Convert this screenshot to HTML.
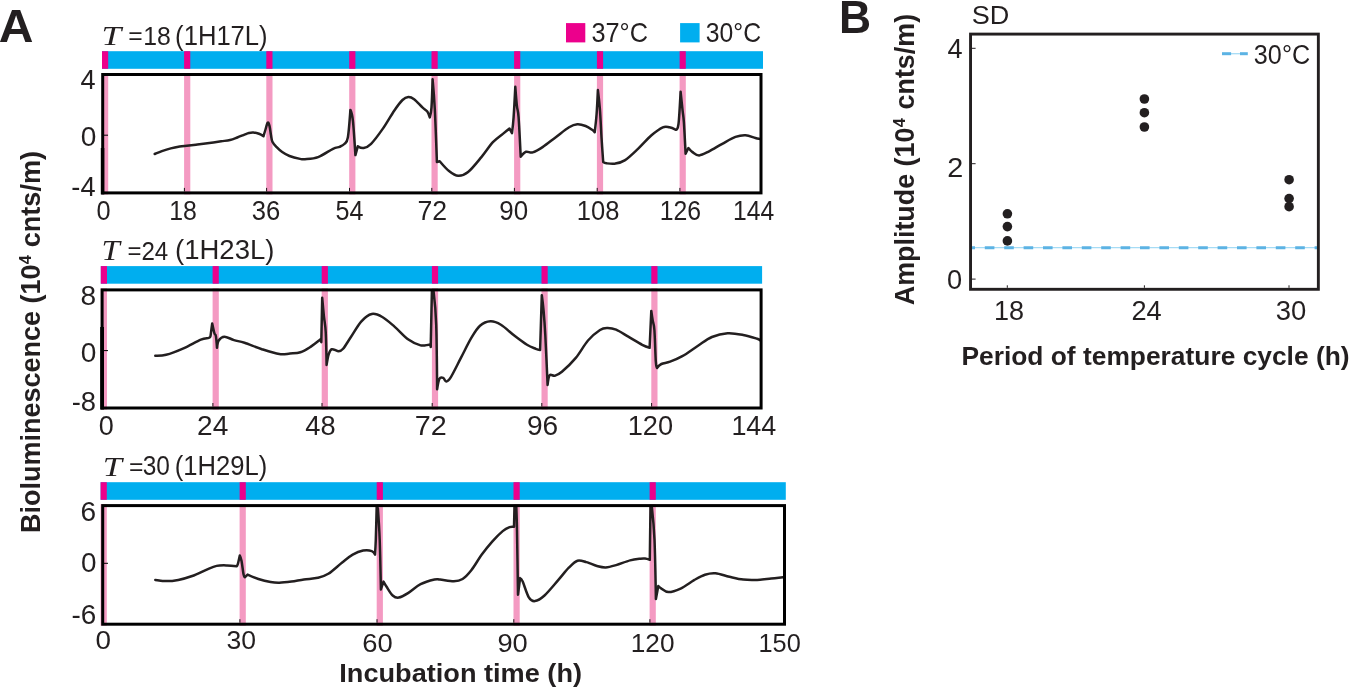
<!DOCTYPE html>
<html><head><meta charset="utf-8"><style>
html,body{margin:0;padding:0;background:#fff;}
svg{display:block;will-change:transform;}

</style></head><body>
<svg width="1349" height="689" viewBox="0 0 1349 689">
<rect width="1349" height="689" fill="#fff"/>
<rect x="102" y="51.2" width="661.00" height="17.60" fill="#00aeef"/>
<rect x="102" y="51.2" width="6.2" height="17.60" fill="#ec008c"/>
<rect x="184.1" y="51.2" width="6.2" height="17.60" fill="#ec008c"/>
<rect x="266.3" y="51.2" width="6.2" height="17.60" fill="#ec008c"/>
<rect x="349.2" y="51.2" width="6.2" height="17.60" fill="#ec008c"/>
<rect x="431.5" y="51.2" width="6.2" height="17.60" fill="#ec008c"/>
<rect x="514.1" y="51.2" width="6.2" height="17.60" fill="#ec008c"/>
<rect x="596.9" y="51.2" width="6.2" height="17.60" fill="#ec008c"/>
<rect x="679.6" y="51.2" width="6.2" height="17.60" fill="#ec008c"/>
<rect x="102" y="73" width="6.2" height="121.40" fill="#f49ac2"/>
<rect x="184.1" y="73" width="6.2" height="121.40" fill="#f49ac2"/>
<rect x="266.3" y="73" width="6.2" height="121.40" fill="#f49ac2"/>
<rect x="349.2" y="73" width="6.2" height="121.40" fill="#f49ac2"/>
<rect x="431.5" y="73" width="6.2" height="121.40" fill="#f49ac2"/>
<rect x="514.1" y="73" width="6.2" height="121.40" fill="#f49ac2"/>
<rect x="596.9" y="73" width="6.2" height="121.40" fill="#f49ac2"/>
<rect x="679.6" y="73" width="6.2" height="121.40" fill="#f49ac2"/>
<clipPath id="c0"><rect x="102.7" y="74.5" width="658.30" height="118.40"/></clipPath>
<path clip-path="url(#c0)" d="M154.70,154.00 C155.90,153.52 159.22,152.03 161.90,151.10 C164.58,150.17 167.83,149.15 170.80,148.40 C173.77,147.65 177.03,147.05 179.70,146.60 C182.37,146.15 183.85,146.05 186.80,145.70 C189.75,145.35 193.65,144.95 197.40,144.50 C201.15,144.05 205.33,143.53 209.30,143.00 C213.27,142.47 217.75,141.80 221.20,141.30 C224.65,140.80 227.32,140.63 230.00,140.00 C232.68,139.37 234.88,138.40 237.30,137.50 C239.72,136.60 242.57,135.35 244.50,134.60 C246.43,133.85 247.45,133.35 248.90,133.00 C250.35,132.65 251.52,132.38 253.20,132.50 C254.88,132.62 257.28,133.08 259.00,133.70 C260.72,134.32 263.50,136.20 263.50,136.20 C263.50,136.20 264.80,131.77 265.50,129.50 C266.20,127.23 267.03,123.20 267.70,122.60 C268.37,122.00 268.95,123.78 269.50,125.90 C270.05,128.02 270.52,132.65 271.00,135.30 C271.48,137.95 271.50,139.87 272.40,141.80 C273.30,143.73 274.77,145.20 276.40,146.90 C278.03,148.60 280.02,150.48 282.20,152.00 C284.38,153.52 286.53,154.85 289.50,156.00 C292.47,157.15 297.43,158.37 300.00,158.90 C302.57,159.43 301.88,159.50 304.90,159.20 C307.92,158.90 313.42,158.83 318.10,157.10 C322.78,155.37 329.42,150.52 333.00,148.80 C336.58,147.08 337.67,147.63 339.60,146.80 C341.53,145.97 343.22,145.40 344.60,143.80 C345.98,142.20 346.93,142.85 347.90,137.20 C348.87,131.55 350.40,109.90 350.40,109.90 C350.40,109.90 352.07,113.17 352.90,120.70 C353.73,128.23 355.40,155.10 355.40,155.10 C355.40,155.10 357.80,146.30 357.80,146.30 C357.80,146.30 361.38,148.42 363.60,148.00 C365.82,147.58 367.92,146.98 371.10,143.80 C374.28,140.62 378.85,134.42 382.70,128.90 C386.55,123.38 390.90,115.52 394.20,110.70 C397.50,105.88 400.15,102.28 402.50,100.00 C404.85,97.72 406.37,97.13 408.30,97.00 C410.23,96.87 411.75,97.47 414.10,99.20 C416.45,100.93 420.20,105.33 422.40,107.40 C424.60,109.47 426.07,109.93 427.30,111.60 C428.53,113.27 429.80,117.40 429.80,117.40 C429.80,117.40 431.03,113.75 431.50,107.40 C431.97,101.05 432.60,79.30 432.60,79.30 C432.60,79.30 434.08,95.32 434.80,109.10 C435.52,122.88 436.90,162.00 436.90,162.00 C436.90,162.00 439.70,161.20 439.70,161.20 C439.70,161.20 445.92,168.57 449.00,171.00 C452.08,173.43 455.02,175.63 458.20,175.80 C461.38,175.97 464.23,175.12 468.10,172.00 C471.97,168.88 477.27,162.07 481.40,157.10 C485.53,152.13 489.32,146.07 492.90,142.20 C496.48,138.33 500.13,136.17 502.90,133.90 C505.67,131.63 509.50,128.60 509.50,128.60 C509.50,128.60 512.00,133.10 512.00,133.10 C512.00,133.10 513.05,125.12 513.60,117.40 C514.15,109.68 515.30,86.80 515.30,86.80 C515.30,86.80 516.35,100.70 516.90,105.80 C517.45,110.90 517.97,108.92 518.60,117.40 C519.23,125.88 520.70,156.70 520.70,156.70 C520.70,156.70 524.00,152.52 526.00,151.80 C528.00,151.08 529.93,153.18 532.70,152.40 C535.47,151.62 538.75,149.63 542.60,147.10 C546.45,144.57 551.38,140.50 555.80,137.20 C560.22,133.90 565.52,129.45 569.10,127.30 C572.68,125.15 574.55,124.52 577.30,124.30 C580.05,124.08 583.12,125.08 585.60,126.00 C588.08,126.92 590.68,128.75 592.20,129.80 C593.72,130.85 594.70,132.30 594.70,132.30 C594.70,132.30 596.07,121.03 596.60,114.00 C597.13,106.97 597.90,90.10 597.90,90.10 C597.90,90.10 599.28,100.97 599.90,109.10 C600.52,117.23 601.05,130.08 601.60,138.90 C602.15,147.72 603.20,162.00 603.20,162.00 C603.20,162.00 604.57,163.02 606.50,163.30 C608.43,163.58 611.77,164.18 614.80,163.70 C617.83,163.22 620.83,162.88 624.70,160.40 C628.57,157.92 633.58,152.95 638.00,148.80 C642.42,144.65 647.07,139.08 651.20,135.50 C655.33,131.92 659.77,128.67 662.80,127.30 C665.83,125.93 667.20,126.88 669.40,127.30 C671.60,127.72 676.00,129.80 676.00,129.80 C676.00,129.80 677.73,130.35 678.50,124.00 C679.27,117.65 680.60,91.70 680.60,91.70 C680.60,91.70 682.05,105.60 682.60,110.70 C683.15,115.80 683.40,115.13 683.90,122.30 C684.40,129.47 685.60,153.70 685.60,153.70 C685.60,153.70 688.40,148.00 688.40,148.00 C688.40,148.00 690.70,150.87 692.50,152.10 C694.30,153.33 696.43,155.53 699.20,155.40 C701.97,155.27 705.25,153.23 709.10,151.30 C712.95,149.37 717.90,146.20 722.30,143.80 C726.70,141.40 731.63,138.33 735.50,136.90 C739.37,135.47 742.18,135.02 745.50,135.20 C748.82,135.38 753.07,137.38 755.40,138.00 C757.73,138.62 758.82,138.75 759.50,138.90" fill="none" stroke="#231f20" stroke-width="2.5" stroke-linejoin="round" stroke-linecap="round"/>
<line x1="184.4" y1="191.4" x2="184.4" y2="187.9" stroke="#000" stroke-width="0.9"/>
<line x1="266.6" y1="191.4" x2="266.6" y2="187.9" stroke="#000" stroke-width="0.9"/>
<line x1="349.5" y1="191.4" x2="349.5" y2="187.9" stroke="#000" stroke-width="0.9"/>
<line x1="431.8" y1="191.4" x2="431.8" y2="187.9" stroke="#000" stroke-width="0.9"/>
<line x1="514.4" y1="191.4" x2="514.4" y2="187.9" stroke="#000" stroke-width="0.9"/>
<line x1="597.1999999999999" y1="191.4" x2="597.1999999999999" y2="187.9" stroke="#000" stroke-width="0.9"/>
<line x1="679.9" y1="191.4" x2="679.9" y2="187.9" stroke="#000" stroke-width="0.9"/>
<rect x="102.7" y="74.5" width="658.30" height="118.40" fill="none" stroke="#000" stroke-width="3.0"/>
<rect x="100.8" y="266.1" width="661.30" height="17.60" fill="#00aeef"/>
<rect x="100.8" y="266.1" width="6.2" height="17.60" fill="#ec008c"/>
<rect x="212.6" y="266.1" width="6.2" height="17.60" fill="#ec008c"/>
<rect x="321.7" y="266.1" width="6.2" height="17.60" fill="#ec008c"/>
<rect x="431.9" y="266.1" width="6.2" height="17.60" fill="#ec008c"/>
<rect x="541.5" y="266.1" width="6.2" height="17.60" fill="#ec008c"/>
<rect x="651.3" y="266.1" width="6.2" height="17.60" fill="#ec008c"/>
<rect x="100.8" y="288.4" width="6.2" height="121.10" fill="#f49ac2"/>
<rect x="212.6" y="288.4" width="6.2" height="121.10" fill="#f49ac2"/>
<rect x="321.7" y="288.4" width="6.2" height="121.10" fill="#f49ac2"/>
<rect x="431.9" y="288.4" width="6.2" height="121.10" fill="#f49ac2"/>
<rect x="541.5" y="288.4" width="6.2" height="121.10" fill="#f49ac2"/>
<rect x="651.3" y="288.4" width="6.2" height="121.10" fill="#f49ac2"/>
<clipPath id="c1"><rect x="102.1" y="289.9" width="659.00" height="118.10"/></clipPath>
<path clip-path="url(#c1)" d="M155.30,355.80 C157.10,355.63 161.40,356.05 166.10,354.80 C170.80,353.55 177.70,350.83 183.50,348.30 C189.30,345.77 196.68,341.33 200.90,339.60 C205.12,337.87 207.20,338.48 208.80,337.90 C210.40,337.32 210.50,336.10 210.50,336.10 C210.50,336.10 212.20,323.40 212.20,323.40 C212.20,323.40 213.88,331.38 214.50,333.50 C215.12,335.62 215.48,333.72 215.90,336.10 C216.32,338.48 217.00,347.80 217.00,347.80 C217.00,347.80 217.47,342.35 218.70,340.50 C219.93,338.65 221.85,336.77 224.40,336.70 C226.95,336.63 230.65,339.08 234.00,340.10 C237.35,341.12 239.85,341.28 244.50,342.80 C249.15,344.32 256.10,347.32 261.90,349.20 C267.70,351.08 274.62,353.38 279.30,354.10 C283.98,354.82 286.48,353.80 290.00,353.50 C293.52,353.20 296.92,353.45 300.40,352.30 C303.88,351.15 307.85,348.52 310.90,346.60 C313.95,344.68 317.02,342.12 318.70,340.80 C320.38,339.48 321.00,338.70 321.00,338.70 C321.00,338.70 321.30,342.20 321.30,342.20 C321.30,342.20 322.20,297.80 322.20,297.80 C322.20,297.80 323.32,310.43 323.90,316.10 C324.48,321.77 325.25,323.67 325.70,331.80 C326.15,339.93 326.60,364.90 326.60,364.90 C326.60,364.90 327.83,357.02 328.70,354.40 C329.57,351.78 330.13,349.72 331.80,349.20 C333.47,348.68 336.82,351.37 338.70,351.30 C340.58,351.23 341.07,351.18 343.10,348.80 C345.13,346.42 347.85,341.58 350.90,337.00 C353.95,332.42 357.92,325.13 361.40,321.30 C364.88,317.47 368.32,314.72 371.80,314.00 C375.28,313.28 378.52,314.90 382.30,317.00 C386.08,319.10 390.15,322.83 394.50,326.60 C398.85,330.37 404.05,336.47 408.40,339.60 C412.75,342.73 417.12,344.53 420.60,345.40 C424.08,346.27 427.62,344.52 429.30,344.80 C430.98,345.08 430.70,347.10 430.70,347.10 C430.70,347.10 431.90,290.90 431.90,290.90 C431.90,290.90 432.88,286.05 433.60,291.70 C434.32,297.35 435.62,308.55 436.20,324.80 C436.78,341.05 437.10,389.20 437.10,389.20 C437.10,389.20 438.38,380.68 439.40,378.80 C440.42,376.92 442.08,377.47 443.20,377.90 C444.32,378.33 444.90,381.40 446.10,381.40 C447.30,381.40 447.93,381.82 450.40,377.90 C452.87,373.98 457.42,364.57 460.90,357.90 C464.38,351.23 468.12,343.27 471.30,337.90 C474.48,332.53 476.80,328.47 480.00,325.70 C483.20,322.93 487.02,321.45 490.50,321.30 C493.98,321.15 496.83,322.33 500.90,324.80 C504.97,327.27 510.55,332.77 514.90,336.10 C519.25,339.43 523.52,342.68 527.00,344.80 C530.48,346.92 533.62,347.92 535.80,348.80 C537.98,349.68 540.10,350.10 540.10,350.10 C540.10,350.10 541.80,295.20 541.80,295.20 C541.80,295.20 543.02,304.22 543.60,310.90 C544.18,317.58 544.63,322.97 545.30,335.30 C545.97,347.63 547.60,384.90 547.60,384.90 C547.60,384.90 548.48,376.83 549.70,375.30 C550.92,373.77 552.87,376.28 554.90,375.70 C556.93,375.12 558.42,374.77 561.90,371.80 C565.38,368.83 571.45,363.12 575.80,357.90 C580.15,352.68 583.97,345.15 588.00,340.50 C592.03,335.85 596.77,332.08 600.00,330.00 C603.23,327.92 604.72,328.05 607.40,328.00 C610.08,327.95 612.62,328.25 616.10,329.70 C619.58,331.15 623.95,334.18 628.30,336.70 C632.65,339.22 638.65,342.95 642.20,344.80 C645.75,346.65 649.60,347.80 649.60,347.80 C649.60,347.80 651.30,310.90 651.30,310.90 C651.30,310.90 652.18,317.32 652.70,320.50 C653.22,323.68 653.88,323.18 654.40,330.00 C654.92,336.82 655.37,355.07 655.80,361.40 C656.23,367.73 657.00,368.00 657.00,368.00 C657.00,368.00 659.22,365.05 661.40,364.00 C663.58,362.95 666.62,363.00 670.10,361.70 C673.58,360.40 677.65,358.87 682.30,356.20 C686.95,353.53 693.07,348.90 698.00,345.70 C702.93,342.50 706.97,339.08 711.90,337.00 C716.83,334.92 722.38,333.55 727.60,333.20 C732.82,332.85 738.27,333.97 743.20,334.90 C748.13,335.83 754.43,337.93 757.20,338.80 C759.97,339.67 759.37,339.88 759.80,340.10" fill="none" stroke="#231f20" stroke-width="2.5" stroke-linejoin="round" stroke-linecap="round"/>
<line x1="212.9" y1="406.5" x2="212.9" y2="403.0" stroke="#000" stroke-width="0.9"/>
<line x1="322.0" y1="406.5" x2="322.0" y2="403.0" stroke="#000" stroke-width="0.9"/>
<line x1="432.2" y1="406.5" x2="432.2" y2="403.0" stroke="#000" stroke-width="0.9"/>
<line x1="541.8" y1="406.5" x2="541.8" y2="403.0" stroke="#000" stroke-width="0.9"/>
<line x1="651.5999999999999" y1="406.5" x2="651.5999999999999" y2="403.0" stroke="#000" stroke-width="0.9"/>
<rect x="102.1" y="289.9" width="659.00" height="118.10" fill="none" stroke="#000" stroke-width="3.0"/>
<rect x="100.6" y="482.2" width="685.20" height="17.60" fill="#00aeef"/>
<rect x="100.6" y="482.2" width="6.2" height="17.60" fill="#ec008c"/>
<rect x="239.6" y="482.2" width="6.2" height="17.60" fill="#ec008c"/>
<rect x="376.7" y="482.2" width="6.2" height="17.60" fill="#ec008c"/>
<rect x="513.5" y="482.2" width="6.2" height="17.60" fill="#ec008c"/>
<rect x="649.6" y="482.2" width="6.2" height="17.60" fill="#ec008c"/>
<rect x="100.6" y="504.1" width="6.2" height="121.60" fill="#f49ac2"/>
<rect x="239.6" y="504.1" width="6.2" height="121.60" fill="#f49ac2"/>
<rect x="376.7" y="504.1" width="6.2" height="121.60" fill="#f49ac2"/>
<rect x="513.5" y="504.1" width="6.2" height="121.60" fill="#f49ac2"/>
<rect x="649.6" y="504.1" width="6.2" height="121.60" fill="#f49ac2"/>
<clipPath id="c2"><rect x="102.7" y="505.6" width="681.80" height="118.60"/></clipPath>
<path clip-path="url(#c2)" d="M155.30,579.90 C157.10,580.10 162.27,581.10 166.10,581.10 C169.93,581.10 173.95,580.75 178.30,579.90 C182.65,579.05 187.55,577.68 192.20,576.00 C196.85,574.32 202.13,571.48 206.20,569.80 C210.27,568.12 213.13,566.63 216.60,565.90 C220.07,565.17 223.67,565.33 227.00,565.40 C230.33,565.47 236.60,566.30 236.60,566.30 C236.60,566.30 237.27,566.00 237.80,564.20 C238.33,562.40 239.80,555.50 239.80,555.50 C239.80,555.50 240.87,557.52 241.50,560.70 C242.13,563.88 243.02,571.85 243.60,574.60 C244.18,577.35 245.00,577.20 245.00,577.20 C245.00,577.20 247.60,574.60 247.60,574.60 C247.60,574.60 254.57,577.75 258.40,579.00 C262.23,580.25 267.12,581.47 270.60,582.10 C274.08,582.73 275.82,582.88 279.30,582.80 C282.78,582.72 287.40,582.15 291.50,581.60 C295.60,581.05 299.50,580.13 303.90,579.50 C308.30,578.87 313.83,578.75 317.90,577.80 C321.97,576.85 324.25,576.35 328.30,573.80 C332.35,571.25 338.13,565.70 342.20,562.50 C346.27,559.30 349.22,556.58 352.70,554.60 C356.18,552.62 359.92,551.18 363.10,550.60 C366.28,550.02 369.82,550.43 371.80,551.10 C373.78,551.77 375.00,554.60 375.00,554.60 C375.00,554.60 375.52,547.92 375.80,539.80 C376.08,531.68 376.70,505.90 376.70,505.90 C376.70,505.90 377.90,508.50 377.90,508.50 C377.90,508.50 379.20,526.32 379.70,539.80 C380.20,553.28 380.90,589.40 380.90,589.40 C380.90,589.40 383.50,581.60 383.50,581.60 C383.50,581.60 385.07,584.48 386.60,586.80 C388.13,589.12 390.67,593.70 392.70,595.50 C394.73,597.30 396.18,598.03 398.80,597.60 C401.42,597.17 404.77,595.13 408.40,592.90 C412.03,590.67 416.25,586.43 420.60,584.20 C424.95,581.97 431.27,580.28 434.50,579.50 C437.73,578.72 436.77,579.20 440.00,579.50 C443.23,579.80 450.13,581.38 453.90,581.30 C457.67,581.22 459.70,580.83 462.60,579.00 C465.50,577.17 468.10,574.37 471.30,570.30 C474.50,566.23 478.32,559.38 481.80,554.60 C485.28,549.82 488.72,545.52 492.20,541.60 C495.68,537.68 499.80,533.52 502.70,531.10 C505.60,528.68 507.72,527.82 509.60,527.10 C511.48,526.38 514.00,526.80 514.00,526.80 C514.00,526.80 514.50,506.70 514.50,506.70 C514.50,506.70 516.30,506.70 516.30,506.70 C516.30,506.70 516.72,516.43 517.00,531.10 C517.28,545.77 518.00,594.70 518.00,594.70 C518.00,594.70 520.10,578.10 520.10,578.10 C520.10,578.10 521.25,578.40 522.70,581.60 C524.15,584.80 526.77,594.05 528.80,597.30 C530.83,600.55 532.28,601.40 534.90,601.10 C537.52,600.80 540.58,599.03 544.50,595.50 C548.42,591.97 554.35,584.53 558.40,579.90 C562.45,575.27 565.62,570.90 568.80,567.70 C571.98,564.50 574.60,561.63 577.50,560.70 C580.40,559.77 584.12,561.65 586.20,562.10 C588.28,562.55 588.20,562.75 590.00,563.40 C591.80,564.05 594.38,565.33 597.00,566.00 C599.62,566.67 602.52,567.55 605.70,567.40 C608.88,567.25 612.03,566.27 616.10,565.10 C620.17,563.93 626.03,561.47 630.10,560.40 C634.17,559.33 638.02,559.00 640.50,558.70 C642.98,558.40 643.45,558.42 645.00,558.60 C646.55,558.78 649.80,559.80 649.80,559.80 C649.80,559.80 650.50,505.90 650.50,505.90 C650.50,505.90 651.80,506.70 651.80,506.70 C651.80,506.70 653.82,524.40 654.50,539.80 C655.18,555.20 655.90,599.10 655.90,599.10 C655.90,599.10 658.30,586.00 658.30,586.00 C658.30,586.00 659.72,587.58 661.40,588.60 C663.08,589.62 665.20,592.10 668.40,592.10 C671.60,592.10 676.25,590.63 680.60,588.60 C684.95,586.57 690.43,582.22 694.50,579.90 C698.57,577.58 701.52,575.80 705.00,574.70 C708.48,573.60 711.33,572.95 715.40,573.30 C719.47,573.65 724.75,575.75 729.40,576.80 C734.05,577.85 738.67,579.08 743.30,579.60 C747.93,580.12 752.55,580.08 757.20,579.90 C761.85,579.72 766.90,578.93 771.20,578.50 C775.50,578.07 781.03,577.50 783.00,577.30" fill="none" stroke="#231f20" stroke-width="2.5" stroke-linejoin="round" stroke-linecap="round"/>
<line x1="239.9" y1="622.7" x2="239.9" y2="619.2" stroke="#000" stroke-width="0.9"/>
<line x1="377.0" y1="622.7" x2="377.0" y2="619.2" stroke="#000" stroke-width="0.9"/>
<line x1="513.8" y1="622.7" x2="513.8" y2="619.2" stroke="#000" stroke-width="0.9"/>
<line x1="649.9" y1="622.7" x2="649.9" y2="619.2" stroke="#000" stroke-width="0.9"/>
<rect x="102.7" y="505.6" width="681.80" height="118.60" fill="none" stroke="#000" stroke-width="3.0"/>
<rect x="100.8" y="148" width="3.5" height="46.4" fill="#000"/>
<rect x="100.2" y="327" width="3.8" height="82.5" fill="#000"/>
<line x1="103.5" y1="135.2" x2="108" y2="135.2" stroke="#000" stroke-width="1"/>
<line x1="103.5" y1="350.6" x2="108" y2="350.6" stroke="#000" stroke-width="1"/>
<line x1="103.5" y1="563.3" x2="108" y2="563.3" stroke="#000" stroke-width="1"/>
<text transform="translate(-1.20,41.80) scale(1.0261,1)" font-family='"Liberation Sans"' font-weight="bold" font-style="normal" font-size="46.84" fill="#231f20" >A</text>
<text transform="translate(101.40,45.30) scale(1.2690,1)" font-family='"Liberation Serif"' font-weight="normal" font-style="italic" font-size="27.94" fill="#231f20" >T</text>
<text transform="translate(128.26,44.45) scale(1.0230,1)" font-family='"Liberation Sans"' font-weight="normal" font-style="normal" font-size="24.19" fill="#231f20" >=</text>
<text transform="translate(143.14,45.44) scale(0.9378,1)" font-family='"Liberation Sans"' font-weight="normal" font-style="normal" font-size="26.43" fill="#231f20" >18</text>
<text transform="translate(175.10,45.27) scale(0.9448,1)" font-family='"Liberation Sans"' font-weight="normal" font-style="normal" font-size="27.13" fill="#231f20" >(1H17L)</text>
<text transform="translate(101.56,259.90) scale(1.1527,1)" font-family='"Liberation Serif"' font-weight="normal" font-style="italic" font-size="28.55" fill="#231f20" >T</text>
<text transform="translate(127.60,258.55) scale(1.0149,1)" font-family='"Liberation Sans"' font-weight="normal" font-style="normal" font-size="23.57" fill="#231f20" >=</text>
<text transform="translate(141.39,260.20) scale(0.9044,1)" font-family='"Liberation Sans"' font-weight="normal" font-style="normal" font-size="26.67" fill="#231f20" >24</text>
<text transform="translate(174.98,259.45) scale(1.0106,1)" font-family='"Liberation Sans"' font-weight="normal" font-style="normal" font-size="27.24" fill="#231f20" >(1H23L)</text>
<text transform="translate(102.65,475.50) scale(1.2365,1)" font-family='"Liberation Serif"' font-weight="normal" font-style="italic" font-size="27.94" fill="#231f20" >T</text>
<text transform="translate(128.96,474.65) scale(1.0230,1)" font-family='"Liberation Sans"' font-weight="normal" font-style="normal" font-size="24.19" fill="#231f20" >=</text>
<text transform="translate(142.68,475.23) scale(0.9102,1)" font-family='"Liberation Sans"' font-weight="normal" font-style="normal" font-size="26.86" fill="#231f20" >30</text>
<text transform="translate(174.80,475.29) scale(0.9148,1)" font-family='"Liberation Sans"' font-weight="normal" font-style="normal" font-size="27.99" fill="#231f20" >(1H29L)</text>
<rect x="566" y="23.1" width="19.3" height="19.3" fill="#ec008c"/>
<text transform="translate(591.45,41.73) scale(0.9277,1)" font-family='"Liberation Sans"' font-weight="normal" font-style="normal" font-size="27.28" fill="#231f20" >37°C</text>
<rect x="680.1" y="23.1" width="19.5" height="19.3" fill="#00aeef"/>
<text transform="translate(705.77,41.73) scale(0.9073,1)" font-family='"Liberation Sans"' font-weight="normal" font-style="normal" font-size="27.28" fill="#231f20" >30°C</text>
<text transform="translate(80.49,88.70) scale(0.9868,1)" font-family='"Liberation Sans"' font-weight="normal" font-style="normal" font-size="27.49" fill="#231f20" >4</text>
<text transform="translate(80.78,145.53) scale(1.0234,1)" font-family='"Liberation Sans"' font-weight="normal" font-style="normal" font-size="27.42" fill="#231f20" >0</text>
<text transform="translate(71.37,195.50) scale(0.9908,1)" font-family='"Liberation Sans"' font-weight="normal" font-style="normal" font-size="27.49" fill="#231f20" >-4</text>
<text transform="translate(80.61,304.53) scale(1.0295,1)" font-family='"Liberation Sans"' font-weight="normal" font-style="normal" font-size="27.28" fill="#231f20" >8</text>
<text transform="translate(80.78,361.63) scale(1.0234,1)" font-family='"Liberation Sans"' font-weight="normal" font-style="normal" font-size="27.42" fill="#231f20" >0</text>
<text transform="translate(71.67,410.62) scale(0.9882,1)" font-family='"Liberation Sans"' font-weight="normal" font-style="normal" font-size="27.70" fill="#231f20" >-8</text>
<text transform="translate(80.39,520.53) scale(1.0412,1)" font-family='"Liberation Sans"' font-weight="normal" font-style="normal" font-size="27.00" fill="#231f20" >6</text>
<text transform="translate(80.89,571.92) scale(1.0054,1)" font-family='"Liberation Sans"' font-weight="normal" font-style="normal" font-size="27.70" fill="#231f20" >0</text>
<text transform="translate(71.45,623.72) scale(1.0114,1)" font-family='"Liberation Sans"' font-weight="normal" font-style="normal" font-size="27.56" fill="#231f20" >-6</text>
<text transform="translate(96.59,219.93) scale(0.9486,1)" font-family='"Liberation Sans"' font-weight="normal" font-style="normal" font-size="26.71" fill="#231f20" >0</text>
<text transform="translate(169.23,219.93) scale(0.9316,1)" font-family='"Liberation Sans"' font-weight="normal" font-style="normal" font-size="26.71" fill="#231f20" >18</text>
<text transform="translate(251.64,219.93) scale(0.9595,1)" font-family='"Liberation Sans"' font-weight="normal" font-style="normal" font-size="26.71" fill="#231f20" >36</text>
<text transform="translate(335.49,219.93) scale(0.9275,1)" font-family='"Liberation Sans"' font-weight="normal" font-style="normal" font-size="27.10" fill="#231f20" >54</text>
<text transform="translate(417.40,220.20) scale(0.9853,1)" font-family='"Liberation Sans"' font-weight="normal" font-style="normal" font-size="27.10" fill="#231f20" >72</text>
<text transform="translate(499.37,219.93) scale(0.9715,1)" font-family='"Liberation Sans"' font-weight="normal" font-style="normal" font-size="26.71" fill="#231f20" >90</text>
<text transform="translate(576.78,219.93) scale(0.9564,1)" font-family='"Liberation Sans"' font-weight="normal" font-style="normal" font-size="26.71" fill="#231f20" >108</text>
<text transform="translate(659.74,219.93) scale(0.9298,1)" font-family='"Liberation Sans"' font-weight="normal" font-style="normal" font-size="26.71" fill="#231f20" >126</text>
<text transform="translate(732.95,220.20) scale(0.8995,1)" font-family='"Liberation Sans"' font-weight="normal" font-style="normal" font-size="27.49" fill="#231f20" >144</text>
<text transform="translate(98.82,434.53) scale(1.0007,1)" font-family='"Liberation Sans"' font-weight="normal" font-style="normal" font-size="27.00" fill="#231f20" >0</text>
<text transform="translate(197.10,434.80) scale(1.0257,1)" font-family='"Liberation Sans"' font-weight="normal" font-style="normal" font-size="27.38" fill="#231f20" >24</text>
<text transform="translate(305.29,434.53) scale(1.0102,1)" font-family='"Liberation Sans"' font-weight="normal" font-style="normal" font-size="27.00" fill="#231f20" >48</text>
<text transform="translate(414.69,434.80) scale(1.0511,1)" font-family='"Liberation Sans"' font-weight="normal" font-style="normal" font-size="27.38" fill="#231f20" >72</text>
<text transform="translate(526.96,434.53) scale(1.0423,1)" font-family='"Liberation Sans"' font-weight="normal" font-style="normal" font-size="27.00" fill="#231f20" >96</text>
<text transform="translate(627.66,434.53) scale(1.0076,1)" font-family='"Liberation Sans"' font-weight="normal" font-style="normal" font-size="27.00" fill="#231f20" >120</text>
<text transform="translate(731.38,434.80) scale(0.9706,1)" font-family='"Liberation Sans"' font-weight="normal" font-style="normal" font-size="27.78" fill="#231f20" >144</text>
<text transform="translate(95.59,649.14) scale(1.0652,1)" font-family='"Liberation Sans"' font-weight="normal" font-style="normal" font-size="26.15" fill="#231f20" >0</text>
<text transform="translate(226.40,649.14) scale(1.0161,1)" font-family='"Liberation Sans"' font-weight="normal" font-style="normal" font-size="26.15" fill="#231f20" >30</text>
<text transform="translate(362.23,651.75) scale(1.0824,1)" font-family='"Liberation Sans"' font-weight="normal" font-style="normal" font-size="25.30" fill="#231f20" >60</text>
<text transform="translate(497.40,651.75) scale(1.0797,1)" font-family='"Liberation Sans"' font-weight="normal" font-style="normal" font-size="25.30" fill="#231f20" >90</text>
<text transform="translate(630.73,651.75) scale(1.0371,1)" font-family='"Liberation Sans"' font-weight="normal" font-style="normal" font-size="25.30" fill="#231f20" >120</text>
<text transform="translate(758.50,651.75) scale(1.0015,1)" font-family='"Liberation Sans"' font-weight="normal" font-style="normal" font-size="25.30" fill="#231f20" >150</text>
<text transform="translate(339.27,682.37) scale(1.0372,1)" font-family='"Liberation Sans"' font-weight="bold" font-style="normal" font-size="26.17" fill="#231f20" >Incubation time (h)</text>
<text transform="translate(39.85,532.92) rotate(-90) scale(0.9913,1)" font-family='"Liberation Sans"' font-weight="bold" font-size="27.24" fill="#231f20">Bioluminescence (10</text>
<text transform="translate(31.00,264.24) rotate(-90) scale(0.9894,1)" font-family='"Liberation Sans"' font-weight="bold" font-size="16.44" fill="#231f20">4</text>
<text transform="translate(39.95,247.28) rotate(-90) scale(0.9949,1)" font-family='"Liberation Sans"' font-weight="bold" font-size="27.24" fill="#231f20">cnts/m)</text>
<text transform="translate(839.10,32.60) scale(0.9560,1)" font-family='"Liberation Sans"' font-weight="bold" font-style="normal" font-size="46.47" fill="#231f20" >B</text>
<text transform="translate(971.68,23.64) scale(1.0459,1)" font-family='"Liberation Sans"' font-weight="normal" font-style="normal" font-size="25.87" fill="#231f20" >SD</text>
<line x1="972" y1="247.7" x2="1317" y2="247.7" stroke="#a6dcf5" stroke-width="1.3"/>
<line x1="972" y1="247.7" x2="1317" y2="247.7" stroke="#5cb3e4" stroke-width="3" stroke-dasharray="9.6 9.8" stroke-dashoffset="6.6"/>
<line x1="1231" y1="53.7" x2="1240" y2="53.7" stroke="#a6dcf5" stroke-width="1.3"/>
<rect x="1222" y="52.2" width="9.1" height="3" fill="#5cb3e4"/>
<rect x="1240" y="52.2" width="7.8" height="3" fill="#5cb3e4"/>
<text transform="translate(1253.85,63.82) scale(0.9055,1)" font-family='"Liberation Sans"' font-weight="normal" font-style="normal" font-size="27.84" fill="#231f20" >30°C</text>
<circle cx="1007.4" cy="213.8" r="4.8" fill="#231f20"/>
<circle cx="1007.4" cy="226.6" r="4.8" fill="#231f20"/>
<circle cx="1007.4" cy="240.9" r="4.8" fill="#231f20"/>
<circle cx="1144.4" cy="99" r="4.8" fill="#231f20"/>
<circle cx="1144.4" cy="112.7" r="4.8" fill="#231f20"/>
<circle cx="1144.4" cy="127" r="4.8" fill="#231f20"/>
<circle cx="1289.1" cy="179.7" r="4.8" fill="#231f20"/>
<circle cx="1289.1" cy="198.6" r="4.8" fill="#231f20"/>
<circle cx="1289.1" cy="206.7" r="4.8" fill="#231f20"/>
<rect x="970.55" y="34.1" width="347.8" height="255.2" fill="none" stroke="#231f20" stroke-width="2.9"/>
<line x1="972" y1="48.3" x2="975.6" y2="48.3" stroke="#231f20" stroke-width="1"/>
<line x1="972" y1="163.7" x2="975.6" y2="163.7" stroke="#231f20" stroke-width="1"/>
<line x1="972" y1="279.1" x2="975.6" y2="279.1" stroke="#231f20" stroke-width="1"/>
<line x1="1007.3" y1="287.8" x2="1007.3" y2="285.3" stroke="#231f20" stroke-width="1"/>
<line x1="1144.4" y1="287.8" x2="1144.4" y2="285.3" stroke="#231f20" stroke-width="1"/>
<line x1="1289" y1="287.8" x2="1289" y2="285.3" stroke="#231f20" stroke-width="1"/>
<text transform="translate(947.49,57.70) scale(0.9816,1)" font-family='"Liberation Sans"' font-weight="normal" font-style="normal" font-size="27.64" fill="#231f20" >4</text>
<text transform="translate(947.26,176.90) scale(1.0298,1)" font-family='"Liberation Sans"' font-weight="normal" font-style="normal" font-size="27.96" fill="#231f20" >2</text>
<text transform="translate(946.91,288.82) scale(0.9827,1)" font-family='"Liberation Sans"' font-weight="normal" font-style="normal" font-size="27.70" fill="#231f20" >0</text>
<text transform="translate(994.07,319.93) scale(1.0055,1)" font-family='"Liberation Sans"' font-weight="normal" font-style="normal" font-size="26.86" fill="#231f20" >18</text>
<text transform="translate(1131.44,320.20) scale(0.9887,1)" font-family='"Liberation Sans"' font-weight="normal" font-style="normal" font-size="27.53" fill="#231f20" >24</text>
<text transform="translate(1275.77,320.13) scale(1.0218,1)" font-family='"Liberation Sans"' font-weight="normal" font-style="normal" font-size="26.86" fill="#231f20" >30</text>
<text transform="translate(961.42,365.20) scale(1.0332,1)" font-family='"Liberation Sans"' font-weight="bold" font-style="normal" font-size="25.52" fill="#231f20" >Period of temperature cycle (h)</text>
<text transform="translate(914.33,305.17) rotate(-90) scale(0.9488,1)" font-family='"Liberation Sans"' font-weight="bold" font-size="28.31" fill="#231f20">Amplitude (10</text>
<text transform="translate(904.90,127.14) rotate(-90) scale(0.9894,1)" font-family='"Liberation Sans"' font-weight="bold" font-size="16.44" fill="#231f20">4</text>
<text transform="translate(914.33,109.48) rotate(-90) scale(0.9501,1)" font-family='"Liberation Sans"' font-weight="bold" font-size="28.31" fill="#231f20">cnts/m)</text>
</svg>
</body></html>
